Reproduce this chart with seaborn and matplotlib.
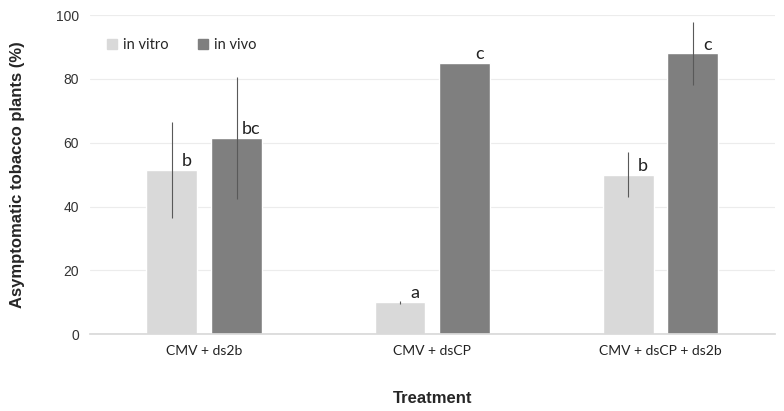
import pandas as pd
import matplotlib.pyplot as plt
import seaborn as sns
from matplotlib.patches import Patch

# Datos
tratamientos = ["CMV + ds2b", "CMV + dsCP", "CMV + dsCP + ds2b"]
in_vitro = [51.5, 10.0, 50.0]
in_vivo = [61.5, 85.0, 88.0]
err_vitro = [15.0, 0.4, 7.0]
err_vivo = [19.0, 0.0, 10.0]
letras_vitro = ["b", "a", "b"]
letras_vivo = ["bc", "c", "c"]

df = pd.DataFrame({
    "Tratamiento": tratamientos * 2,
    "Valor": in_vitro + in_vivo,
    "Metodo": ["in vitro"] * 3 + ["in vivo"] * 3,
})

sns.set_theme(style="white")
plt.rcParams["font.family"] = ["Liberation Sans", "DejaVu Sans"]

colores = {"in vitro": "#d9d9d9", "in vivo": "#7f7f7f"}

fig, ax = plt.subplots(figsize=(7.84, 4.11), dpi=100)
sns.barplot(data=df, x="Tratamiento", y="Valor", hue="Metodo", palette=colores,
            width=0.568, gap=0.215, errorbar=None, legend=False, ax=ax,
            saturation=1)

# Barras de error y letras
errores = [err_vitro, err_vivo]
letras = [letras_vitro, letras_vivo]
valores = [in_vitro, in_vivo]
for cont, errs, lets, vals in zip(ax.containers, errores, letras, valores):
    xs = [p.get_x() + p.get_width() / 2 for p in cont.patches]
    ax.errorbar(xs, vals, yerr=errs, fmt="none", ecolor="#595959",
                elinewidth=0.8, capsize=0)
    for x, v, l in zip(xs, vals, lets):
        ax.text(x + 0.065, v + 0.3, l, ha="center", va="bottom", fontsize=13,
                family=["Lato", "DejaVu Sans"], color="#222222")

ax.set_xlim(-0.5, 2.5)
ax.set_ylim(0, 100)
ax.set_yticks(range(0, 101, 20))
ax.yaxis.grid(True, color="#ececec", linewidth=0.8)
ax.set_axisbelow(True)
for s in ["left", "right", "top"]:
    ax.spines[s].set_visible(False)
ax.spines["bottom"].set_color("#d9d9d9")
ax.tick_params(axis="y", labelsize=10, colors="#333333", length=0, pad=8)
ax.tick_params(axis="x", labelsize=10, colors="#222222", length=0, pad=8)
for t in ax.get_xticklabels():
    t.set_family(["Lato", "DejaVu Sans"])

ax.set_ylabel("Asymptomatic tobacco plants (%)", fontsize=12, fontweight="bold", labelpad=22)
ax.set_xlabel("Treatment", fontsize=12, fontweight="bold", labelpad=24)

handles = [Patch(color=colores[k], label=k) for k in ["in vitro", "in vivo"]]
ax.legend(handles=handles, loc="upper left", bbox_to_anchor=(0.005, 0.97), ncol=2,
          frameon=False, handlelength=0.7, handleheight=0.7, handletextpad=0.4,
          columnspacing=2.0, prop={"family": ["Lato", "DejaVu Sans"], "size": 10.5})

plt.subplots_adjust(left=0.115, right=0.988, top=0.963, bottom=0.187)
plt.savefig("out.png", dpi=100)
plt.close()
